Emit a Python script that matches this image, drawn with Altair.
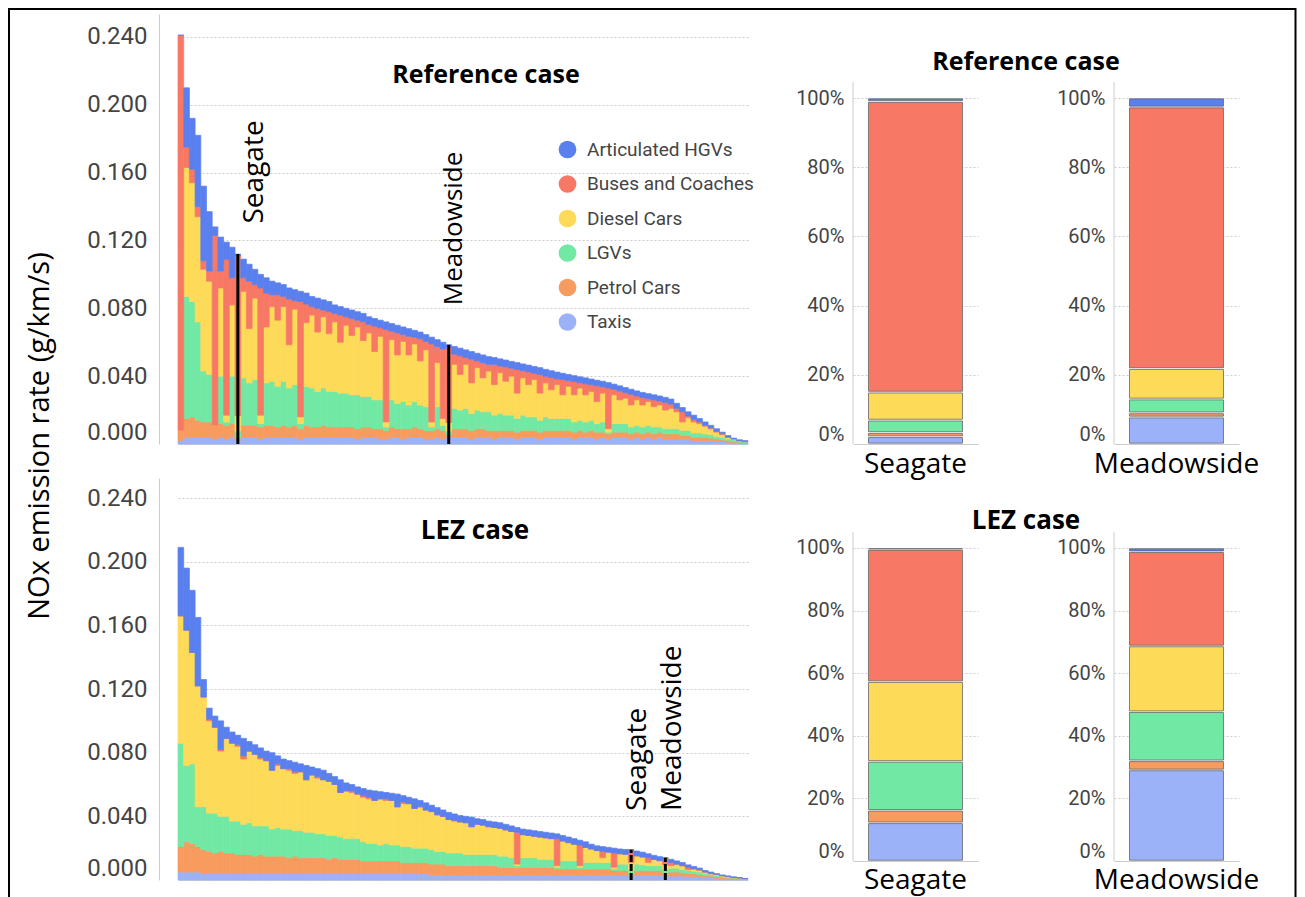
import altair as alt
import pandas as pd

CATEGORIES = ["Articulated HGVs", "Buses and Coaches", "Diesel Cars", "LGVs", "Petrol Cars", "Taxis"]
COLORS = ["#5a7fee", "#f77865", "#fdda58", "#72e8a5", "#f89b5e", "#9cb2f8"]
STACK_ORDER = ["Taxis", "Petrol Cars", "LGVs", "Diesel Cars", "Buses and Coaches", "Articulated HGVs"]

# ---- Reference case, per road segment (units of 0.001 g/km/s), sorted by total ----
REF_TAXIS = [2, 4, 4, 4, 4, 4, 3, 4, 3, 4, 2.3, 4, 4, 4, 3, 4, 4, 4, 4, 4,
             4, 3, 4, 4, 4, 4, 4, 4, 4, 4, 4, 3, 4, 4, 4, 3, 3, 4, 4, 3,
             4, 4, 4, 3, 3, 4, 3, 4.6, 4, 4, 4, 3, 4, 4, 4, 3, 4, 4, 4, 3,
             4, 4, 4, 3, 4, 4, 4, 4, 4, 3, 4, 4, 4, 3, 4, 3, 4, 4, 4, 3,
             4, 3, 4, 3, 4, 3, 3, 3, 3, 3, 2, 2, 2, 2, 1.5, 1.5, 1, 1, 0.5, 0.5]
REF_PETROL = [6, 11, 12, 10, 9, 9, 8, 8, 8, 8, 1.3, 7, 7, 7, 7, 7, 7, 6, 7, 6,
              7, 6, 7, 6, 6, 7, 6, 6, 6, 6, 6, 6, 6, 6, 5, 6, 5, 6, 5, 6,
              5, 6, 5, 5, 5, 5, 5, 0.7, 5, 5, 5, 5, 5, 5, 4, 5, 4, 4, 4, 4,
              4, 4, 4, 4, 4, 4, 4, 4, 4, 4, 4, 3, 4, 4, 3, 3, 3, 3, 3, 3,
              3, 3, 3, 3, 3, 3, 3, 3, 2, 2, 2, 2, 2, 1.5, 1.5, 1, 1, 0.5, 0.5, 0.5]
REF_LGV = [0, 72, 68, 58, 30, 28, 0, 28, 2, 28, 4, 28, 25, 27, 2, 25, 26, 24, 26, 23,
           24, 3, 23, 23, 21, 22, 21, 21, 20, 20, 19, 20, 18, 18, 17, 17, 2, 16, 15, 16,
           14, 15, 14, 14, 2, 13, 3, 2.3, 12, 11, 12, 10, 11, 10, 11, 9, 10, 9, 9, 8,
           9, 8, 8, 7, 8, 7, 7, 7, 7, 6, 6, 6, 6, 5, 6, 1, 5, 5, 5, 4,
           4, 4, 4, 4, 3, 3, 3, 3, 3, 3, 2.5, 2.5, 2, 2, 1.5, 1.5, 1, 1, 1, 0.5]
REF_DIESEL = [0, 76, 70, 62, 60, 55, 0, 52, 4, 42, 9.1, 51, 32, 48, 5, 33, 44, 39, 44, 25.5,
              44.5, 4, 37.5, 43, 35, 42, 34, 41, 30, 40, 35, 40, 33, 37.5, 28.5, 37.5, 3, 35.5, 28.5, 35.5,
              29.5, 34, 26, 33.5, 3, 26, 4, 5.1, 26, 21, 26, 18, 25, 20, 24, 18, 24, 20, 23, 15,
              22, 19, 22, 16, 20, 17, 20, 14, 19, 16, 19, 16, 17, 13, 17, 2, 17, 14, 15, 13,
              15, 13, 14, 12, 13, 11, 12, 10, 5, 7.5, 6.5, 5.5, 4.5, 3.5, 2.5, 1.5, 1, 0.5, 0, 0]
REF_BUSES = [233, 12, 8, 6, 5, 6, 112, 10, 92, 16, 94.2, 8, 28, 8, 75, 20, 7, 15, 6, 27,
             5, 68, 11, 5, 14, 4, 13, 5, 16, 5, 10, 4, 11, 5, 15, 5, 54.5, 5, 13, 4,
             11, 4, 13, 5, 46, 9.5, 41, 44.3, 6, 11, 4, 14, 4, 9, 4, 12, 4, 8.5, 4.7, 14,
             4.2, 7.5, 3.7, 11, 4, 7.2, 3.4, 9, 3.5, 7.8, 3.1, 6.5, 4, 9.3, 3.7, 24, 3.3, 5.3, 3.3, 6.3,
             2.3, 4.4, 1.7, 4, 2.3, 4.5, 2.5, 2, 6, 1, 1.5, 1, 0.5, 0.5, 0.5, 0.5, 0, 0, 0, 0]
REF_HGV = [0, 35, 30, 42, 44, 35, 5, 20, 10, 18, 1.1, 11, 10, 9, 8, 9, 8, 7, 7, 6.5,
           6.5, 6, 6.5, 6, 6, 6, 6, 5, 5, 5, 5, 5, 5, 4.5, 4.5, 4.5, 4.5, 4.5, 4.5, 4.5,
           4.5, 4, 4, 4, 4, 4, 4, 1.5, 4.5, 4.5, 4.5, 4.5, 4.5, 4.5, 4.5, 4, 4.2, 4, 4, 4,
           4, 4, 4, 4, 4, 4, 4, 3.7, 3.5, 3.5, 3.5, 3.5, 3.3, 3.3, 3.3, 3.2, 3, 3, 3, 3,
           3, 3, 3, 3, 3, 3, 3, 3, 2.5, 2.5, 2.5, 2, 2, 1.5, 1.5, 1, 1, 0.5, 0.5, 0.5]

# ---- LEZ case ----
LEZ_TAXIS = [5, 5, 5, 5, 4, 4, 4, 4, 4, 4, 4, 4, 4, 4, 4, 4, 4, 4, 4, 4,
             4, 4, 4, 4, 4, 4, 4, 4, 4, 4, 4, 4, 4, 4, 4, 4, 4, 4, 4, 4,
             4, 4, 4, 4, 3, 3, 3, 3, 3, 3, 3, 3, 3, 3, 3, 3, 3, 3, 3, 3,
             3, 3, 3, 3, 3, 3, 3, 3, 3, 3, 3, 3, 3, 3, 3, 3, 3, 3, 3, 2.3,
             3, 3, 3, 3, 3, 4.1, 2.5, 2.5, 2.5, 2, 2, 2, 1.5, 1.5, 1, 1, 0.8, 0.6, 0.5, 0.3]
LEZ_PETROL = [16, 19, 18, 16, 15, 14, 13, 14, 13, 13, 12, 12, 12, 11, 12, 11, 11, 11, 11, 10,
              11, 10, 10, 10, 10, 10, 9, 10, 9, 9, 9, 9, 8, 8, 8, 8, 8, 8, 8, 7,
              7, 7, 7, 7, 7, 7, 7, 6, 6, 6, 6, 6, 6, 6, 6, 6, 5, 5, 5, 5,
              5, 5, 5, 5, 5, 5, 4, 4, 4, 4, 4, 4, 4, 4, 4, 4, 3, 3, 3, 0.8,
              3, 3, 3, 3, 3, 0.4, 2.5, 2.5, 2, 2, 2, 1.5, 1.5, 1, 1, 0.7, 0.6, 0.5, 0.4, 0.3]
LEZ_LGV = [65, 48, 50, 25, 27, 24, 25, 22, 23, 20, 21, 19, 20, 19, 18, 19, 17, 18, 17, 18,
           16, 17, 16, 16, 15, 15, 15, 14, 14, 13, 13, 13, 12, 11, 11, 10, 11, 10, 10, 10,
           10, 9, 9, 9, 9, 8, 8, 8, 8, 8, 7, 7, 7, 7, 7, 7, 7, 7, 6, 1,
           6, 6, 6, 5, 5, 5, 1, 5, 5, 5, 1, 4, 4, 4, 4, 4, 1, 4, 4, 3,
           4, 3.5, 3, 3, 3, 2.2, 2.5, 2.5, 2, 2, 1.5, 1.5, 1, 1, 1, 0.7, 0.6, 0.5, 0.4, 0.2]
LEZ_DIESEL = [80, 85, 70, 76, 69, 58, 54, 41, 49, 49, 47, 41, 45, 45, 42, 41, 37, 39, 38, 37,
              36, 37, 33, 36, 35, 34, 34, 32, 28, 30, 29, 28, 28, 28, 27, 29, 27, 28, 24, 27,
              27, 25, 26, 24, 24, 23, 22, 21, 20, 19.5, 20, 17.5, 19, 18.5, 17.5, 17, 17.5, 16.5, 16.5, 1,
              14.5, 14, 13.5, 14, 13.5, 13, 1, 12.5, 11.5, 10.5, 1, 9.5, 8.5, 7.5, 3, 6.5, 1, 6.5, 6.2, 4.8,
              5.2, 5, 2, 4, 3.2, 2.9, 1.5, 2.5, 2.5, 0.5, 1.5, 1, 1, 0.5, 0.5, 0.3, 0.2, 0, 0, 0]
LEZ_BUSES = [0, 0, 0, 0, 0, 1, 0, 1, 0, 0, 1, 2, 0, 0, 1, 0, 0, 1, 0, 1,
             1, 0, 0, 0, 1, 0, 0, 0, 0, 0, 1, 0, 1, 1, 0, 0, 1, 0, 0, 1,
             0, 0, 0, 0, 0, 0, 0, 0, 0.5, 0, 0, 0, 0, 0, 0, 0, 0, 0, 0, 20,
             0, 0, 0, 0, 0, 0, 17, 0, 0, 0, 13, 0, 0, 0, 4, 0, 9, 0, 0, 8.0,
             0, 0, 3, 0, 0, 4.2, 2, 0, 0, 1.5, 0, 0.5, 0, 0, 0, 0, 0, 0, 0, 0]
LEZ_HGV = [43, 39, 39, 43, 11, 7, 7, 18, 7, 7, 6, 11, 6, 6, 6, 6, 11, 5, 6, 5,
           6, 5, 9, 5, 5, 6, 5, 5, 8, 5, 4, 4.5, 4.5, 4.5, 6, 4.5, 4, 4.5, 8, 4,
           4, 6, 4, 4.5, 4, 4.5, 4, 4.5, 4, 4, 4, 6, 3.5, 3.5, 3.5, 3.5, 3.5, 3.5, 3.5, 3,
           3.5, 3.5, 3.5, 3.5, 3.5, 3.5, 3, 3.5, 3.5, 3.5, 3, 3.5, 3, 3, 3, 3, 3, 3, 3, 0.1,
           3, 3, 2.5, 2.5, 2.5, 0.2, 2, 2, 2, 1.5, 1.5, 1, 1, 1, 0.5, 0.5, 0.4, 0.4, 0.2, 0.2]

# ---- Source shares (%) at the two monitoring sites, in CATEGORIES order ----
LOCATIONS = ["Seagate", "Meadowside"]
SEAGATE_REF = [1.0, 84.0, 8.1, 3.6, 1.2, 2.1]
MEADOWSIDE_REF = [2.6, 75.6, 8.8, 4.0, 1.2, 7.8]
SEAGATE_LEZ = [0.5, 42.2, 25.5, 15.6, 4.0, 12.2]
MEADOWSIDE_LEZ = [1.2, 30.1, 21.0, 15.7, 2.9, 29.1]

Y_TICKS = [0.0, 0.04, 0.08, 0.12, 0.16, 0.2, 0.24]
PCT_TICKS = [0.0, 0.2, 0.4, 0.6, 0.8, 1.0]
N_SEG = 100

COLOR_SCALE = alt.Scale(domain=CATEGORIES, range=COLORS)
GRID_DASH = {"condition": {"test": "datum.value == 0", "value": []}, "value": [2, 2]}
ZERO_BASELINE = {"condition": {"test": "datum.value == 0", "value": "bottom"}, "value": "middle"}


def long_table(series):
    rows = []
    for cat, vals in series.items():
        for i, v in enumerate(vals):
            rows.append({"seg": i, "cat": cat, "rank": STACK_ORDER.index(cat), "val": v / 1000.0})
    return pd.DataFrame(rows)


def left_panel(series, ymax, height, markers, dash, case_title, title_xy, title_size, legend):
    df = long_table(series)
    xs = alt.Scale(domain=list(range(N_SEG)), range=[19, 589], paddingInner=0, paddingOuter=0)
    ys = alt.Scale(domain=[0, ymax], nice=False)
    yaxis = alt.Axis(values=Y_TICKS, format=".3f", title=None, labelFont="Roboto", labelFontSize=24,
                     labelColor="#444", labelPadding=12, ticks=False, tickSize=0, domainColor="#ccc",
                     gridColor="#ccc", gridDash=GRID_DASH, labelBaseline=ZERO_BASELINE)
    bars = alt.Chart(df).mark_bar(strokeWidth=0.7).encode(
        x=alt.X("seg:O", scale=xs, axis=None),
        y=alt.Y("val:Q", stack="zero", scale=ys, axis=yaxis),
        color=alt.Color("cat:N", scale=COLOR_SCALE, legend=legend),
        stroke=alt.Stroke("cat:N", scale=COLOR_SCALE, legend=None),
        order=alt.Order("rank:Q", sort="ascending"),
    )
    layers = [bars]
    for name, seg, ystart, fsize, dy in markers:
        total = sum(s[seg] for s in series.values()) / 1000.0
        mdf = pd.DataFrame({"seg": [seg], "base": [0.0], "total": [total], "ystart": [ystart], "name": [name]})
        rk = dict(color="black", strokeWidth=3)
        if dash:
            rk["strokeDash"] = dash
        layers.append(alt.Chart(mdf).mark_rule(**rk).encode(
            x=alt.X("seg:O", scale=xs, axis=None),
            y=alt.Y("base:Q", scale=ys, axis=yaxis), y2="total:Q"))
        layers.append(alt.Chart(mdf).mark_text(angle=270, align="left", baseline="middle", font="Open Sans",
                                               fontSize=fsize, color="black", dy=dy).encode(
            x=alt.X("seg:O", scale=xs, axis=None),
            y=alt.Y("ystart:Q", scale=ys, axis=yaxis), text="name:N"))
    tdf = pd.DataFrame({"t": [case_title]})
    layers.append(alt.Chart(tdf).mark_text(font="Open Sans", fontSize=title_size, fontWeight="bold",
                                           color="black", align="center", baseline="middle").encode(
        x=alt.value(title_xy[0]), y=alt.value(title_xy[1]), text="t:N"))
    return alt.layer(*layers).properties(width=608, height=height)


def right_panel(loc, shares, ymax, height, axis_top, label_pad, case_title=None, title_xy=None, title_size=25):
    df = pd.DataFrame({"loc": [loc] * len(CATEGORIES), "cat": CATEGORIES,
                       "share": [s / 100.0 for s in shares],
                       "rank": [STACK_ORDER.index(c) for c in CATEGORIES]})
    xs = alt.Scale(domain=[loc], paddingInner=0, paddingOuter=0.165)
    ys = alt.Scale(domain=[0, ymax], nice=False)
    xaxis = alt.Axis(title=None, labelAngle=0, labelFont="Open Sans", labelFontSize=28, labelColor="black",
                     labelPadding=label_pad, ticks=False, tickSize=0, domain=False, labelLimit=400)
    yaxis = alt.Axis(values=PCT_TICKS, format=".0%", title=None, labelFont="Roboto", labelFontSize=20,
                     labelColor="#444", labelPadding=9, ticks=False, tickSize=0, domain=False,
                     gridColor="#ccc", gridDash=GRID_DASH, labelBaseline=ZERO_BASELINE)
    # stacked segments, each drawn with a small white gap to its neighbours
    bars = alt.Chart(df).transform_stack(
        stack="share", as_=["lo", "hi"], groupby=["loc"],
        sort=[alt.SortField("rank", order="ascending")]
    ).transform_calculate(
        lo2="datum.lo + 0.0025", hi2="datum.hi - 0.0025"
    ).mark_bar(stroke="#666", strokeWidth=0.8).encode(
        x=alt.X("loc:N", scale=xs, axis=xaxis),
        y=alt.Y("lo2:Q", scale=ys, axis=yaxis),
        y2="hi2:Q",
        color=alt.Color("cat:N", scale=COLOR_SCALE, legend=None),
    )
    adf = pd.DataFrame({"a": [0.0], "b": [axis_top]})
    axis_line = alt.Chart(adf).mark_rule(color="#ccc", strokeWidth=1).encode(
        x=alt.value(0), y=alt.Y("a:Q", scale=ys, axis=yaxis), y2="b:Q")
    layers = [axis_line, bars]
    if case_title:
        tdf = pd.DataFrame({"t": [case_title]})
        layers.append(alt.Chart(tdf).mark_text(font="Open Sans", fontSize=title_size, fontWeight="bold",
                                               color="black", align="center", baseline="middle").encode(
            x=alt.value(title_xy[0]), y=alt.value(title_xy[1]), text="t:N"))
    return alt.layer(*layers).properties(width=125, height=height)


ref_series = {"Taxis": REF_TAXIS, "Petrol Cars": REF_PETROL, "LGVs": REF_LGV,
              "Diesel Cars": REF_DIESEL, "Buses and Coaches": REF_BUSES, "Articulated HGVs": REF_HGV}
lez_series = {"Taxis": LEZ_TAXIS, "Petrol Cars": LEZ_PETROL, "LGVs": LEZ_LGV,
              "Diesel Cars": LEZ_DIESEL, "Buses and Coaches": LEZ_BUSES, "Articulated HGVs": LEZ_HGV}

legend = alt.Legend(orient="none", legendX=399, legendY=126, title=None, symbolType="circle",
                    symbolSize=314, labelFont="Roboto", labelFontSize=19, labelColor="#444",
                    rowPadding=14.5, labelOffset=10, padding=0, labelLimit=300, symbolStrokeWidth=0)

left_top = left_panel(ref_series, 0.2535, 430,
                      [("Seagate", 10, 0.130, 28, 17), ("Meadowside", 47, 0.0818, 26, 5)],
                      None, "Reference case", (327, 61), 25, legend)
left_bottom = left_panel(lez_series, 0.2526, 402,
                         [("Seagate", 79, 0.0434, 28, 7), ("Meadowside", 85, 0.0434, 28, 8)],
                         [7, 2], "LEZ case", (316, 53), 26, None)

seag_ref = right_panel(LOCATIONS[0], SEAGATE_REF, 1.2428, 430, 1.046, 6, "Reference case", (173, 48), 25)
mead_ref = right_panel(LOCATIONS[1], MEADOWSIDE_REF, 1.2428, 430, 1.046, 6)
seag_lez = right_panel(LOCATIONS[0], SEAGATE_LEZ, 1.2236, 383, 1.051, 5, "LEZ case", (173, 43), 26)
mead_lez = right_panel(LOCATIONS[1], MEADOWSIDE_LEZ, 1.2236, 383, 1.051, 5)

pair_ref = alt.hconcat(seag_ref, mead_ref, spacing=136, bounds="flush").resolve_scale(color="independent")
pair_lez = alt.hconcat(seag_lez, mead_lez, spacing=136, bounds="flush").resolve_scale(color="independent")
row1 = alt.hconcat(left_top, pair_ref, spacing=28).resolve_scale(color="independent", stroke="independent")
row2 = alt.hconcat(left_bottom, pair_lez, spacing=28).resolve_scale(color="independent", stroke="independent")
main = alt.vconcat(row1, row2, spacing=-3).resolve_scale(color="independent", stroke="independent")

side_df = pd.DataFrame({"t": ["NOx emission rate (g/km/s)"]})
frame = alt.Chart(side_df).mark_rect(fillOpacity=0, stroke="black", strokeWidth=2).encode(
    x=alt.value(-9), x2=alt.value(1277.5), y=alt.value(-5), y2=alt.value(884))
ytitle = alt.Chart(side_df).mark_text(angle=270, font="Open Sans", fontSize=29, color="black",
                                      align="center", baseline="middle").encode(
    x=alt.value(22), y=alt.value(422), text="t:N")
side = alt.layer(frame, ytitle).properties(width=40, height=860)

chart = (alt.hconcat(side, main, spacing=101, bounds="flush")
         .resolve_scale(color="independent", stroke="independent")
         .properties(padding=0)
         .configure_view(stroke=None))

chart.save("out.html", embed_options={"renderer": "svg", "actions": False})
